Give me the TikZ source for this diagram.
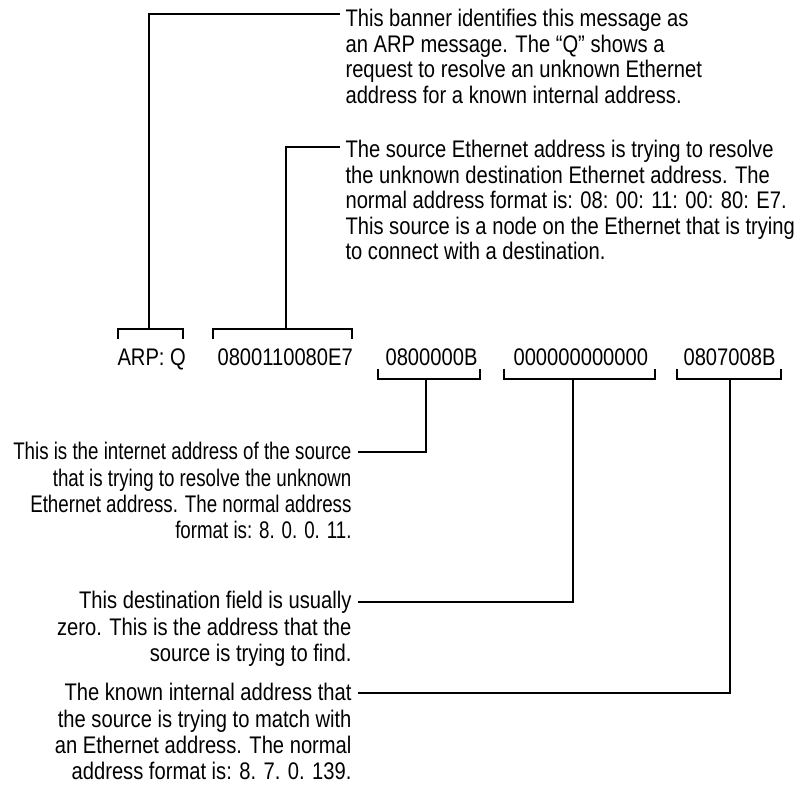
\documentclass[tikz,border=0pt]{standalone}
\usepackage{fontspec}
\setmainfont{Liberation Sans}[FakeStretch=0.84]
\newfontfamily\narrowfont{Liberation Sans}[FakeStretch=0.78]
\usetikzlibrary{positioning}

\begin{document}
\begin{tikzpicture}[x=1pt, y=-1pt, line width=1.1pt,
    field/.style={inner sep=0pt, anchor=base west, font=\fontsize{24}{26}\selectfont},
    note/.style={inner sep=0pt, align=left, anchor=north west, font=\fontsize{24}{25.5}\selectfont},
    rnote/.style={inner sep=0pt, align=right, anchor=north east, font=\fontsize{24}{26.3}\selectfont}]
    \useasboundingbox (0,0) rectangle (804,791);

    % message fields
    \node[field] (arp) at (117,366) {ARP: Q};
    \node[field] (srceth) at (217,366) {0800110080E7};
    \node[field] (srcip) at (385,366) {0800000B};
    \node[field] (dsteth) at (513,366) {000000000000};
    \node[field] (dstip) at (683,366) {0807008B};

    % brackets above the fields
    \draw (118,339) |- (183,329) -- (183,339);
    \draw (213,339) |- (352,329) -- (352,339);
    \coordinate (arp top) at (149,329);
    \coordinate (srceth top) at (286,329);

    % brackets below the fields
    \draw (378,369) |- (480,379) -- (480,369);
    \draw (504,369) |- (655,379) -- (655,369);
    \draw (677,369) |- (781,379) -- (781,369);
    \coordinate (srcip bot) at (426,379);
    \coordinate (dsteth bot) at (573,379);
    \coordinate (dstip bot) at (730,379);

    % upper notes
    \node[note] (banner) at (345,9) {This banner identifies this message as\\
        an ARP message. The “Q” shows a\\
        request to resolve an unknown Ethernet\\
        address for a known internal address.};
    \node[note] (srcnote) at (345,140) {The source Ethernet address is trying to resolve\\
        the unknown destination Ethernet address. The\\
        normal address format is: 08: 00: 11: 00: 80: E7.\\
        This source is a node on the Ethernet that is trying\\
        to connect with a destination.};
    \coordinate (banner end) at (340,14);
    \coordinate (srcnote end) at (340,147);
    \draw (banner end) -| (arp top);
    \draw (srcnote end) -| (srceth top);

    % lower notes
    \node[rnote, font=\narrowfont\fontsize{24}{26.3}\selectfont] (ipnote) at (352,442) {This is the internet address of the source\\
        that is trying to resolve the unknown\\
        Ethernet address. The normal address\\
        format is: 8. 0. 0. 11.};
    \node[rnote] (zeronote) at (352,591) {This destination field is usually\\
        zero. This is the address that the\\
        source is trying to find.};
    \node[rnote] (knownnote) at (352,683) {The known internal address that\\
        the source is trying to match with\\
        an Ethernet address. The normal\\
        address format is: 8. 7. 0. 139.};
    \coordinate (ipnote end) at (358,452);
    \coordinate (zeronote end) at (358,602);
    \coordinate (knownnote end) at (358,693);
    \draw (ipnote end) -| (srcip bot);
    \draw (zeronote end) -| (dsteth bot);
    \draw (knownnote end) -| (dstip bot);
\end{tikzpicture}
\end{document}
